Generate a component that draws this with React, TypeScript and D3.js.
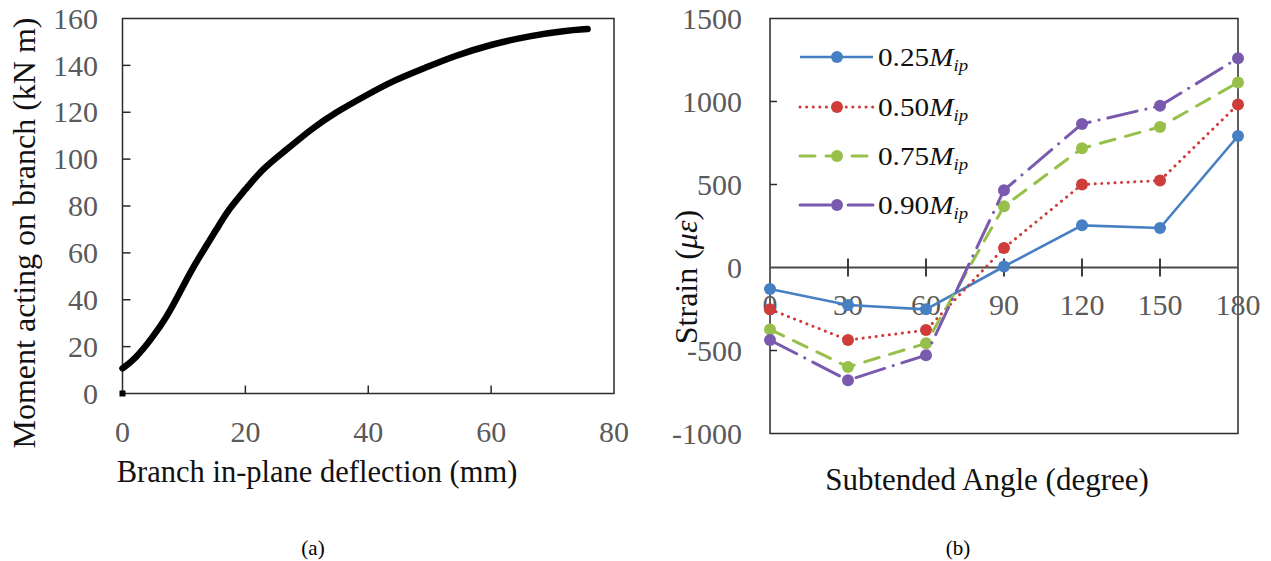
import React from "react";
import * as d3 from "d3";

// ---- Panel (a) data ----
const deflection = [0, 0, 2, 4.7, 7.3, 9.3, 11.3, 13.3, 15.3, 17.3, 20, 22.7, 26.7, 30.7, 34.7, 40, 44, 49.3, 54, 60, 66.7, 72, 75.7];
const moment = [0, 10.7, 14.6, 23.2, 33, 43, 53, 61.6, 70, 78.7, 87, 95.7, 104, 112.8, 120, 127.7, 133.4, 139, 144, 149, 152.8, 154.8, 155.5];
const aXTicks = [0, 20, 40, 60, 80];
const aYTicks = [0, 20, 40, 60, 80, 100, 120, 140, 160];

// ---- Panel (b) data ----
const angles = [0, 30, 60, 90, 120, 150, 180];
const s025 = [-129, -226, -252, 6, 254, 238, 792];
const s050 = [-252, -437, -377, 117, 500, 524, 982];
const s075 = [-373, -599, -457, 369, 718, 847, 1115];
const s090 = [-437, -679, -528, 466, 865, 974, 1261];
const seriesNames = ["0.25", "0.50", "0.75", "0.90"];
const bXTicks = [0, 30, 60, 90, 120, 150, 180];
const bYTicks = [-1000, -500, 0, 500, 1000, 1500];

const seriesStyles = [
  { color: "#4680c2", dash: null, width: 2.6 },
  { color: "#cf3d3b", dash: "0.1 6.5", width: 3 },
  { color: "#97c04a", dash: "15 11", width: 3 },
  { color: "#7a5aae", dash: "30 9 0.1 9", width: 3 },
];

const serif = "Liberation Serif, Times New Roman, DejaVu Serif, serif";
const tickColor = "#5a5a5a";

function PanelA() {
  const x = d3.scaleLinear().domain([0, 80]).range([122.5, 614]);
  const y = d3.scaleLinear().domain([0, 160]).range([393.5, 18.5]);
  const pts = deflection.map((d, i) => [d, moment[i]] as [number, number]);
  const line = d3
    .line<[number, number]>()
    .x((d) => x(d[0]))
    .y((d) => y(d[1]))
    .curve(d3.curveBasis);
  return (
    <g>
      <defs>
        <clipPath id="clipA">
          <rect x={0} y={0} width={640} height={491} />
        </clipPath>
      </defs>
      <rect x={x(0)} y={y(160)} width={x(80) - x(0)} height={y(0) - y(160)} fill="none" stroke="#2a2a2a" strokeWidth={1.5} />
      {aYTicks.map((t) => (
        <g key={"ay" + t}>
          {t > 0 && t < 160 && <line x1={x(0)} x2={x(0) + 8} y1={y(t)} y2={y(t)} stroke="#2a2a2a" strokeWidth={1.5} />}
          <text x={98} y={y(t)} dy="0.34em" textAnchor="end" style={{ fontFamily: serif, fontSize: 30 }} fill={tickColor}>
            {t}
          </text>
        </g>
      ))}
      {aXTicks.map((t) => (
        <g key={"ax" + t}>
          {t > 0 && t < 80 && <line x1={x(t)} x2={x(t)} y1={y(0)} y2={y(0) - 8} stroke="#2a2a2a" strokeWidth={1.5} />}
          <text x={x(t)} y={432} dy="0.34em" textAnchor="middle" style={{ fontFamily: serif, fontSize: 30 }} fill={tickColor}>
            {t}
          </text>
        </g>
      ))}
      <path d={line(pts.slice(1)) || ""} fill="none" stroke="#000" strokeWidth={6.5} strokeLinecap="round" strokeLinejoin="round" />
      <rect x={x(pts[0][0]) - 3} y={y(pts[0][1]) - 3} width={6} height={6} fill="#000" />
      <text transform="translate(35,233) rotate(-90)" textAnchor="middle" style={{ fontFamily: serif, fontSize: 32 }} fill="#111">
        Moment acting on branch (kN m)
      </text>
      <g clipPath="url(#clipA)">
        <text x={317} y={482} textAnchor="middle" style={{ fontFamily: serif, fontSize: 30.5 }} fill="#111">
          Branch in-plane deflection (mm)
        </text>
      </g>
      <text x={313} y={555} textAnchor="middle" style={{ fontFamily: serif, fontSize: 21 }} fill="#000">
        (a)
      </text>
    </g>
  );
}

function PanelB() {
  const x = d3.scaleLinear().domain([0, 180]).range([770, 1238]);
  const y = d3.scaleLinear().domain([-1000, 1500]).range([433.5, 18.5]);
  const all = [s025, s050, s075, s090];
  const line = d3
    .line<number>()
    .x((_, i) => x(angles[i]))
    .y((d) => y(d));
  const legendY = [57, 107, 156, 205];
  return (
    <g>
      <rect x={x(0)} y={y(1500)} width={x(180) - x(0)} height={y(-1000) - y(1500)} fill="none" stroke="#2a2a2a" strokeWidth={1.5} />
      {bYTicks.map((t) => (
        <g key={"by" + t}>
          {t > -1000 && t < 1500 && t !== 0 && <line x1={x(0)} x2={x(0) + 7} y1={y(t)} y2={y(t)} stroke="#2a2a2a" strokeWidth={1.5} />}
          <text x={742} y={y(t)} dy="0.34em" textAnchor="end" style={{ fontFamily: serif, fontSize: 30 }} fill={tickColor}>
            {t}
          </text>
        </g>
      ))}
      {bXTicks.map((t) => (
        <text key={"bxl" + t} x={x(t)} y={305} dy="0.34em" textAnchor="middle" style={{ fontFamily: serif, fontSize: 30 }} fill={tickColor}>
          {t}
        </text>
      ))}
      <line x1={x(0)} x2={x(180)} y1={y(0)} y2={y(0)} stroke="#4a4a4a" strokeWidth={2.2} />
      {bXTicks.map((t) =>
        t > 0 && t < 180 ? <line key={"bxt" + t} x1={x(t)} x2={x(t)} y1={y(0) - 9} y2={y(0) + 9} stroke="#2a2a2a" strokeWidth={1.8} /> : null
      )}
      {all.map((s, k) => (
        <g key={"s" + k}>
          <path
            d={line(s) || ""}
            fill="none"
            stroke={seriesStyles[k].color}
            strokeWidth={seriesStyles[k].width}
            strokeDasharray={seriesStyles[k].dash || undefined}
            strokeLinecap={seriesStyles[k].dash ? "round" : "butt"}
          />
          {s.map((v, i) => (
            <circle key={i} cx={x(angles[i])} cy={y(v)} r={6} fill={seriesStyles[k].color} />
          ))}
        </g>
      ))}
      {seriesNames.map((n, k) => (
        <g key={"lg" + k}>
          <line
            x1={800}
            x2={873}
            y1={legendY[k]}
            y2={legendY[k]}
            stroke={seriesStyles[k].color}
            strokeWidth={seriesStyles[k].width}
            strokeDasharray={seriesStyles[k].dash || undefined}
            strokeLinecap={seriesStyles[k].dash ? "round" : "butt"}
          />
          <circle cx={837} cy={legendY[k]} r={6} fill={seriesStyles[k].color} />
          <g transform={`translate(878,${legendY[k]}) scale(1.17,1)`}>
            <text x={0} y={0} dy="0.34em" style={{ fontFamily: serif, fontSize: 25 }} fill="#111">
              {n}
              <tspan fontStyle="italic">M</tspan>
              <tspan fontStyle="italic" style={{ fontSize: 16 }} dy="5">
                ip
              </tspan>
            </text>
          </g>
        </g>
      ))}
      <text transform="translate(697,277) rotate(-90)" textAnchor="middle" style={{ fontFamily: serif, fontSize: 32 }} fill="#111">
        Strain (<tspan fontStyle="italic">με</tspan>)
      </text>
      <text x={987} y={490} textAnchor="middle" style={{ fontFamily: serif, fontSize: 31 }} fill="#111">
        Subtended Angle (degree)
      </text>
      <text x={958} y={555} textAnchor="middle" style={{ fontFamily: serif, fontSize: 21 }} fill="#000">
        (b)
      </text>
    </g>
  );
}

export default function App() {
  return (
    <svg
      width={1271}
      height={561}
      viewBox="0 0 1271 561"
      style={{ position: "absolute", left: 0, top: 0, background: "#fff" }}
    >
      <rect x={0} y={0} width={1271} height={561} fill="#fff" />
      <PanelA />
      <PanelB />
    </svg>
  );
}
